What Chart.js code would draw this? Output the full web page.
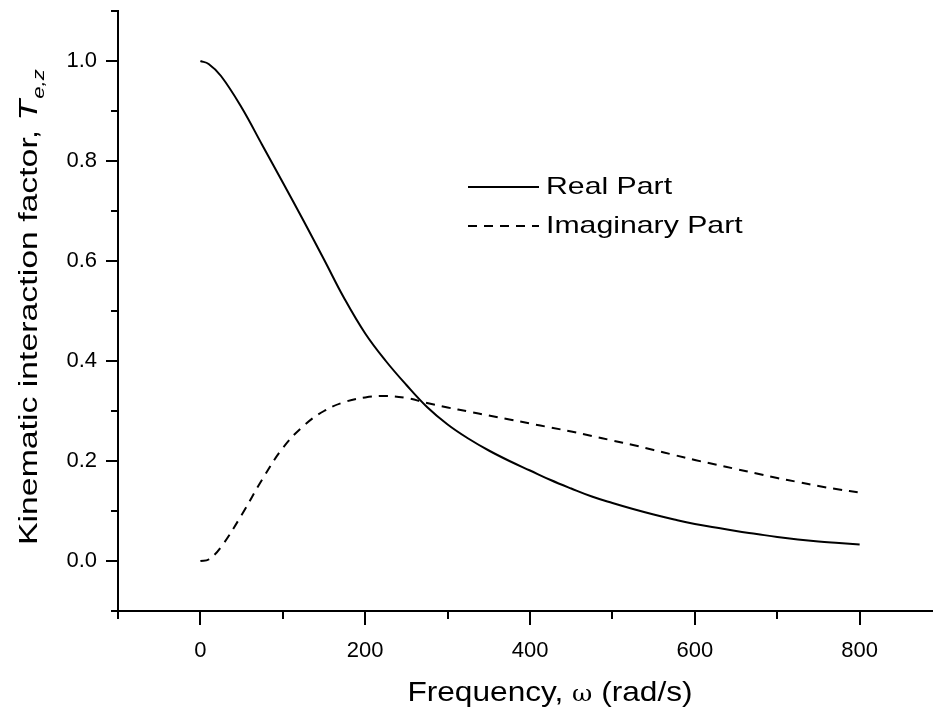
<!DOCTYPE html>
<html>
<head>
<meta charset="utf-8">
<script src="https://cdn.jsdelivr.net/npm/chart.js@4.4.1/dist/chart.umd.min.js"></script>
<style>
  html, body { margin: 0; padding: 0; background: #fff; }
  #wrap { width: 933px; height: 712px; }
</style>
</head>
<body>
<div id="wrap"><canvas id="chart"></canvas></div>
<script>
// Frecuencia (rad/s) y factor de interacción cinemática
const omega = [0, 10, 25, 50, 75, 100, 125, 150, 175, 200, 225, 250, 275, 300, 325, 350, 375, 400,
               425, 450, 475, 500, 525, 550, 575, 600, 625, 650, 675, 700, 725, 750, 775, 800];
const realPart = [1.000, 0.994, 0.970, 0.907, 0.832, 0.757, 0.681, 0.603, 0.524, 0.455, 0.400, 0.352,
                  0.308, 0.273, 0.245, 0.221, 0.200, 0.181, 0.162, 0.145, 0.129, 0.116, 0.104, 0.093,
                  0.083, 0.074, 0.067, 0.060, 0.054, 0.048, 0.043, 0.039, 0.036, 0.033];
const imagPart = [0.000, 0.003, 0.028, 0.092, 0.163, 0.226, 0.270, 0.300, 0.318, 0.327, 0.330, 0.326,
                  0.316, 0.307, 0.299, 0.291, 0.283, 0.275, 0.267, 0.259, 0.250, 0.241, 0.232, 0.222,
                  0.212, 0.202, 0.193, 0.184, 0.175, 0.166, 0.158, 0.150, 0.143, 0.137];

// Marcas de los ejes
const xMajor = [0, 200, 400, 600, 800];
const xMinor = [-100, 0, 100, 200, 300, 400, 500, 600, 700, 800];
const yMajor = [0.0, 0.2, 0.4, 0.6, 0.8, 1.0];
const yMinor = [-0.1, 0.0, 0.1, 0.2, 0.3, 0.4, 0.5, 0.6, 0.7, 0.8, 0.9, 1.0, 1.1];

const FONT = "'Liberation Sans', Arial, Helvetica, sans-serif";

const isMajor = (list, v) => list.some(m => Math.abs(m - v) < 1e-6);

// Texto estirado en horizontal (como en el gráfico original)
function stretchedText(ctx, text, x, y, sx) {
    ctx.save();
    ctx.translate(x, y);
    ctx.scale(sx, 1);
    ctx.fillText(text, 0, 0);
    ctx.restore();
    return ctx.measureText(text).width * sx;
}

// Marcas mayores y menores sobre los ejes
const axisTicks = {
    id: 'axisTicks',
    afterDraw(chart) {
        const { ctx, chartArea, scales: { x, y } } = chart;
        ctx.save();
        ctx.strokeStyle = '#000';
        ctx.lineWidth = 2;
        ctx.beginPath();
        xMinor.forEach(v => {
            const px = Math.round(x.getPixelForValue(v));
            const len = isMajor(xMajor, v) ? 14 : 8;
            ctx.moveTo(px, chartArea.bottom);
            ctx.lineTo(px, chartArea.bottom + len);
        });
        yMinor.forEach(v => {
            const py = Math.round(y.getPixelForValue(v));
            const len = isMajor(yMajor, v) ? 12 : 7;
            ctx.moveTo(chartArea.left, py);
            ctx.lineTo(chartArea.left - len, py);
        });
        ctx.stroke();
        ctx.restore();
    }
};

// Títulos de los ejes y leyenda
const labelsAndLegend = {
    id: 'labelsAndLegend',
    afterDraw(chart) {
        const { ctx } = chart;
        ctx.save();
        ctx.fillStyle = '#000';
        ctx.textBaseline = 'alphabetic';

        // eje X
        const parts = ['Frequency, ', 'ω', ' (rad/s)'];
        const fonts = [`28px ${FONT}`, `22px 'DejaVu Serif', serif`, `28px ${FONT}`];
        const sx = 1.13;
        let w = 0;
        parts.forEach((t, i) => { ctx.font = fonts[i]; w += ctx.measureText(t).width * sx; });
        let xx = 550 - w / 2;
        parts.forEach((t, i) => { ctx.font = fonts[i]; xx += stretchedText(ctx, t, xx, 701, sx); });

        // eje Y (rotado)
        ctx.save();
        ctx.translate(37, 545);
        ctx.rotate(-Math.PI / 2);
        const sy = 1.3;
        ctx.font = `26px ${FONT}`;
        let p = stretchedText(ctx, 'Kinematic interaction factor, ', 0, 0, sy);
        ctx.font = `italic 26px ${FONT}`;
        p += stretchedText(ctx, 'T', p, 0, sy);
        ctx.font = `italic 17px ${FONT}`;
        stretchedText(ctx, 'e,z', p + 1, 7, sy);
        ctx.restore();

        // leyenda
        const rows = [187, 226];
        chart.data.datasets.forEach((ds, i) => {
            const ly = rows[i];
            ctx.save();
            ctx.strokeStyle = ds.borderColor;
            ctx.lineWidth = ds.borderWidth;
            ctx.setLineDash(ds.borderDash || []);
            ctx.beginPath();
            ctx.moveTo(468, ly);
            ctx.lineTo(539, ly);
            ctx.stroke();
            ctx.restore();
            ctx.font = `24px ${FONT}`;
            ctx.textBaseline = 'middle';
            stretchedText(ctx, ds.label, 546, ly, 1.26);
        });
        ctx.restore();
    }
};

const noPad = s => { s.paddingTop = 0; s.paddingBottom = 0; s.paddingLeft = 0; s.paddingRight = 0; };

const ctx = document.getElementById('chart').getContext('2d');
new Chart(ctx, {
    type: 'line',
    data: {
        datasets: [
            {
                label: 'Real Part',
                data: omega.map((w, i) => ({ x: w, y: realPart[i] })),
                borderColor: '#000',
                borderWidth: 2,
                pointRadius: 0,
                fill: false,
                tension: 0.4
            },
            {
                label: 'Imaginary Part',
                data: omega.map((w, i) => ({ x: w, y: imagPart[i] })),
                borderColor: '#000',
                borderWidth: 2,
                borderDash: [9, 7],
                pointRadius: 0,
                fill: false,
                tension: 0.4
            }
        ]
    },
    options: {
        responsive: true,
        maintainAspectRatio: false,
        animation: false,
        layout: { padding: { top: 11, right: 0, left: 0, bottom: 0 } },
        plugins: {
            legend: { display: false },
            tooltip: { enabled: false }
        },
        scales: {
            x: {
                type: 'linear',
                min: -100,
                max: 889,
                afterBuildTicks: s => { s.ticks = xMinor.map(v => ({ value: v })); },
                afterFit: s => { s.height = 101; noPad(s); },
                grid: { display: false, drawTicks: false },
                border: { display: true, color: '#000', width: 2 },
                ticks: {
                    autoSkip: false,
                    maxRotation: 0,
                    padding: 27,
                    color: '#000',
                    font: { family: FONT, size: 22 },
                    callback: v => isMajor(xMajor, v) ? String(v) : ''
                }
            },
            y: {
                type: 'linear',
                min: -0.1,
                max: 1.1,
                afterBuildTicks: s => { s.ticks = yMinor.map(v => ({ value: v })); },
                afterFit: s => { s.width = 118; noPad(s); },
                grid: { display: false, drawTicks: false },
                border: { display: true, color: '#000', width: 2 },
                ticks: {
                    autoSkip: false,
                    padding: 21,
                    color: '#000',
                    font: { family: FONT, size: 22 },
                    callback: v => isMajor(yMajor, v) ? v.toFixed(1) : ''
                }
            }
        }
    },
    plugins: [axisTicks, labelsAndLegend]
});
</script>
</body>
</html>
